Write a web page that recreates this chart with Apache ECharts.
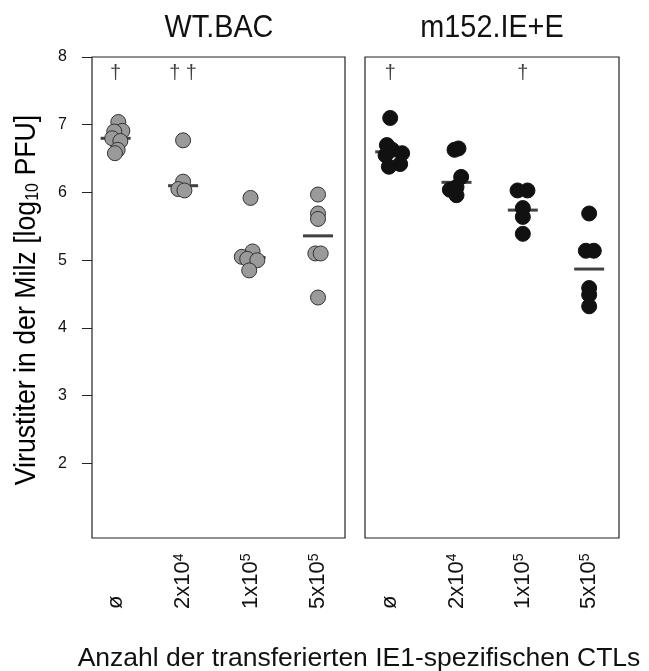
<!DOCTYPE html>
<html>
<head>
<meta charset="utf-8">
<script src="https://cdn.jsdelivr.net/npm/echarts@6/dist/echarts.min.js"></script>
<style>
  html, body { margin: 0; padding: 0; background: #fff; }
  #chart { width: 649px; height: 671px; }
</style>
</head>
<body>
<div id="chart"></div>
<script>
// dose groups (x positions 1..4)
const doseBase = ['ø', '2x10', '1x10', '5x10'];
const doseExp = ['', '4', '5', '5'];
const yTicks = [2, 3, 4, 5, 6, 7, 8];

// individual mice, [group position incl. jitter, log10 PFU]
const wtPoints = [
  [1.04, 7.04], [1.10, 6.91], [0.98, 6.90], [0.95, 6.80], [1.07, 6.76], [1.03, 6.63], [0.99, 6.58],
  [2.00, 6.77], [2.00, 6.16], [1.93, 6.05], [2.02, 6.03],
  [3.00, 5.92], [3.03, 5.13], [2.87, 5.05], [2.95, 5.02], [3.10, 5.00], [2.98, 4.85],
  [4.00, 5.97], [4.00, 5.69], [4.00, 5.61], [3.96, 5.10], [4.04, 5.10], [4.00, 4.45]
];
const m152Points = [
  [1.00, 7.10], [0.95, 6.70], [1.03, 6.63], [1.18, 6.58], [0.93, 6.55], [1.15, 6.42], [0.98, 6.38],
  [2.03, 6.65], [1.97, 6.63], [2.07, 6.23], [2.00, 6.08], [1.90, 6.04], [2.00, 5.96],
  [2.92, 6.03], [3.07, 6.03], [3.00, 5.77], [3.00, 5.64], [3.00, 5.39],
  [4.00, 5.69], [3.95, 5.14], [4.07, 5.14], [4.00, 4.59], [4.00, 4.49], [4.00, 4.32]
];

// group medians
const wtMedians = [6.80, 6.10, 5.04, 5.36];
const m152Medians = [6.60, 6.15, 5.74, 4.87];

// deaths (daggers) per group
const daggerLevel = 7.76;
const wtDaggers = [[1, '†'], [2, '† †']];
const m152Daggers = [[1, '†'], [3, '†']];

const FONT = '"Liberation Sans", Arial, sans-serif';
const INK = '#111';

const chart = echarts.init(document.getElementById('chart'));

function xAxisFor(gridIndex, min, max) {
  return {
    type: 'value',
    gridIndex: gridIndex,
    min: min,
    max: max,
    axisLine: { show: false },
    axisTick: { show: false },
    splitLine: { show: false },
    axisLabel: {
      customValues: [1, 2, 3, 4],
      rotate: 90,
      align: 'left',
      verticalAlign: 'middle',
      margin: 71,
      color: INK,
      fontFamily: FONT,
      fontSize: 22,
      formatter: (v) => {
        const i = Math.round(v) - 1;
        return doseExp[i] ? doseBase[i] + '{sup|' + doseExp[i] + '}' : doseBase[i];
      },
      rich: {
        sup: { fontSize: 14, fontFamily: FONT, color: INK, verticalAlign: 'top' }
      }
    }
  };
}

function yAxisFor(gridIndex, showLabels) {
  return {
    type: 'value',
    gridIndex: gridIndex,
    min: 0.9,
    max: 8,
    axisLine: { show: false },
    splitLine: { show: false },
    axisTick: {
      show: showLabels,
      length: 10,
      customValues: yTicks,
      lineStyle: { color: '#222', width: 1 }
    },
    axisLabel: {
      show: showLabels,
      customValues: yTicks,
      margin: 25,
      color: INK,
      fontFamily: FONT,
      fontSize: 16
    }
  };
}

function panelSeries(idx, points, medians, daggers, fill, border) {
  return [
    {
      type: 'scatter',
      xAxisIndex: idx,
      yAxisIndex: idx,
      data: medians.map((m, i) => [i + 1, m]),
      symbol: 'rect',
      symbolSize: [30, 3],
      itemStyle: { color: '#111' },
      z: 2
    },
    {
      type: 'scatter',
      xAxisIndex: idx,
      yAxisIndex: idx,
      data: points,
      symbolSize: 15,
      itemStyle: { color: fill, borderColor: border, borderWidth: 1, opacity: 1 },
      z: 3
    },
    {
      type: 'scatter',
      xAxisIndex: idx,
      yAxisIndex: idx,
      data: daggers.map(d => [d[0], daggerLevel, d[1]]),
      symbolSize: 0,
      label: {
        show: true,
        position: 'inside',
        formatter: (p) => p.data[2],
        color: INK,
        fontFamily: FONT,
        fontSize: 20
      },
      z: 4
    }
  ];
}

const option = {
  backgroundColor: '#fff',
  animation: false,
  grid: [
    { left: 92, top: 57, width: 253, height: 481, show: true, borderColor: '#222', borderWidth: 1.2, backgroundColor: 'transparent', outerBoundsMode: 'none' },
    { left: 365, top: 57, width: 254, height: 481, show: true, borderColor: '#222', borderWidth: 1.2, backgroundColor: 'transparent', outerBoundsMode: 'none' }
  ],
  xAxis: [xAxisFor(0, 0.65, 4.4), xAxisFor(1, 0.62, 4.45)],
  yAxis: [yAxisFor(0, true), yAxisFor(1, false)],
  series: [
    ...panelSeries(0, wtPoints, wtMedians, wtDaggers, '#9a9a9a', '#333'),
    ...panelSeries(1, m152Points, m152Medians, m152Daggers, '#111', '#111')
  ],
  graphic: [
    {
      type: 'text', x: 219, y: 28, scaleX: 0.9,
      style: { text: 'WT.BAC', font: '32px ' + FONT, fill: INK, textAlign: 'center', textVerticalAlign: 'middle' }
    },
    {
      type: 'text', x: 492, y: 28, scaleX: 0.9,
      style: { text: 'm152.IE+E', font: '32px ' + FONT, fill: INK, textAlign: 'center', textVerticalAlign: 'middle' }
    },
    {
      type: 'text', x: 359, y: 659,
      style: { text: 'Anzahl der transferierten IE1-spezifischen CTLs', font: '26.5px ' + FONT, fill: INK, textAlign: 'center', textVerticalAlign: 'middle' }
    },
    {
      type: 'text', x: 26, y: 300, rotation: Math.PI / 2, scaleX: 0.89,
      style: {
        text: '{a|Virustiter in der Milz [log}{s|10}{a| PFU]}',
        textAlign: 'center',
        textVerticalAlign: 'middle',
        rich: {
          a: { fontSize: 30, fontFamily: FONT, color: INK, lineHeight: 32, verticalAlign: 'bottom' },
          s: { fontSize: 18, fontFamily: FONT, color: INK, lineHeight: 15, verticalAlign: 'bottom' }
        }
      }
    }
  ]
};

chart.setOption(option);
</script>
</body>
</html>
